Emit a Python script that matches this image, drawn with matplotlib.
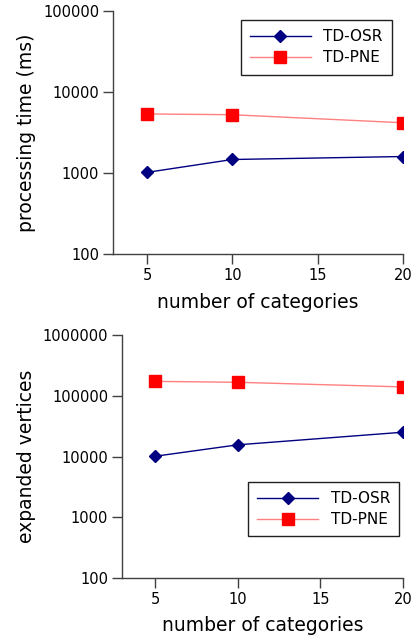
import numpy as np
import matplotlib
matplotlib.use("Agg")
import matplotlib.pyplot as plt

# Data
categories = [5, 10, 20]
time_osr = [1020, 1470, 1600]
time_pne = [5370, 5250, 4180]
vert_osr = [10100, 15600, 25200]
vert_pne = [174000, 168000, 141000]

plt.rcParams['font.family'] = 'DejaVu Sans'

fig = plt.figure(figsize=(4.14, 6.41), dpi=100)
ax1 = fig.add_axes([0.273, 0.6037, 0.700, 0.379])
ax2 = fig.add_axes([0.2947, 0.0988, 0.6787, 0.378])


def style(ax, ylim, ylabel):
    ax.set_yscale('log')
    ax.set_xlim(3, 20)
    ax.set_ylim(*ylim)
    ax.set_xticks([5, 10, 15, 20])
    ax.yaxis.set_major_formatter(matplotlib.ticker.FuncFormatter(lambda v, p: f"{int(round(v))}"))
    ax.yaxis.set_minor_locator(matplotlib.ticker.NullLocator())
    ax.spines['top'].set_visible(False)
    ax.spines['right'].set_visible(False)
    for s in ('left', 'bottom'):
        ax.spines[s].set_color('#404040')
        ax.spines[s].set_linewidth(1.0)
    ax.tick_params(direction='out', length=7, width=1.0, color='#404040',
                   labelsize=10.5, pad=3)
    ax.set_xlabel('number of categories', fontsize=13.5, labelpad=7)
    ax.set_ylabel(ylabel, fontsize=13.5, labelpad=5)


def add_legend(ax, anchor):
    ax.legend(loc='upper right', bbox_to_anchor=anchor, borderaxespad=0,
              fontsize=11, handlelength=4.0, fancybox=False,
              edgecolor='#202020', framealpha=1, borderpad=0.6,
              labelspacing=0.4)


ax1.plot(categories, time_osr, color='#000080', lw=1.0, marker='D', ms=6,
         label='TD-OSR')
ax1.plot(categories, time_pne, color='#ff8080', lw=1.0, marker='s', ms=8,
         mfc='#ff0000', mec='#ff0000', label='TD-PNE')
style(ax1, (100, 100000), 'processing time (ms)')
add_legend(ax1, (0.962, 0.963))

ax2.plot(categories, vert_osr, color='#000080', lw=1.0, marker='D', ms=6,
         label='TD-OSR')
ax2.plot(categories, vert_pne, color='#ff8080', lw=1.0, marker='s', ms=8,
         mfc='#ff0000', mec='#ff0000', label='TD-PNE')
style(ax2, (100, 1000000), 'expanded vertices')
add_legend(ax2, (0.986, 0.395))

fig.savefig('out.png', dpi=100)
